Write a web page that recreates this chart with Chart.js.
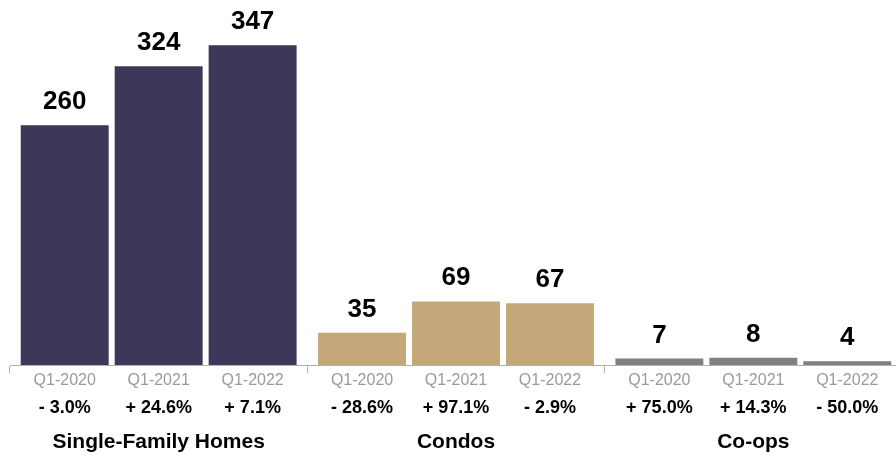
<!DOCTYPE html>
<html>
<head>
<meta charset="utf-8">
<script src="https://cdn.jsdelivr.net/npm/chart.js@4/dist/chart.umd.min.js"></script>
<style>
  html, body { margin: 0; padding: 0; background: #fff; overflow: hidden; }
  #wrap { width: 902px; height: 456px; }
</style>
</head>
<body>
<div id="wrap"><canvas id="chart" width="902" height="456"></canvas></div>
<script>
// 数据
const groups = ['Single-Family Homes', 'Condos', 'Co-ops'];
const quarters = ['Q1-2020', 'Q1-2021', 'Q1-2022'];
const q2020 = [260, 35, 7];
const q2021 = [324, 69, 8];
const q2022 = [347, 67, 4];
const chg2020 = ['- 3.0%', '- 28.6%', '+ 75.0%'];
const chg2021 = ['+ 24.6%', '+ 97.1%', '+ 14.3%'];
const chg2022 = ['+ 7.1%', '- 2.9%', '- 50.0%'];
const groupColors = ['#3b3859', '#c4a87a', '#818181'];

const values = [q2020, q2021, q2022];
const changes = [chg2020, chg2021, chg2022];
const FONT = '"Liberation Sans", Arial, Helvetica, sans-serif';

// 柱子上的数值、季度和变化百分比
const labelPlugin = {
    id: 'barLabels',
    afterDatasetsDraw(chart) {
        const c = chart.ctx;
        const bottom = chart.chartArea.bottom;
        c.save();
        c.textAlign = 'center';
        chart.data.datasets.forEach((ds, i) => {
            chart.getDatasetMeta(i).data.forEach((bar, j) => {
                c.fillStyle = '#000';
                c.font = 'bold 26px ' + FONT;
                c.textBaseline = 'alphabetic';
                c.fillText(String(ds.data[j]), bar.x, bar.y - 16);

                c.textBaseline = 'middle';
                c.fillStyle = '#9a9a9a';
                c.font = '16px ' + FONT;
                c.fillText(quarters[i], bar.x, bottom + 16);

                c.fillStyle = '#000';
                c.font = 'bold 18px ' + FONT;
                c.fillText(changes[i][j], bar.x, bottom + 43);
            });
        });
        c.restore();
    }
};

new Chart(document.getElementById('chart'), {
    type: 'bar',
    data: {
        labels: groups,
        datasets: quarters.map((q, i) => ({
            label: q,
            data: values[i],
            backgroundColor: groupColors,
            borderWidth: 0,
            categoryPercentage: 0.948,
            barPercentage: 0.936
        }))
    },
    options: {
        responsive: false,
        animation: false,
        layout: { padding: { left: 10, right: 0, top: 0, bottom: 0 } },
        plugins: { legend: { display: false }, tooltip: { enabled: false } },
        scales: {
            y: { display: false, min: 0, max: 396 },
            x: {
                offset: true,
                border: { display: true, color: '#b0b0b0', width: 1 },
                grid: { offset: true, drawOnChartArea: false, drawTicks: true, tickLength: 8, color: '#b0b0b0' },
                ticks: { color: '#000', font: { family: FONT, size: 21, weight: 'bold' }, padding: 57, maxRotation: 0 },
                afterFit(scale) {
                    scale.height = 91;
                    scale.paddingLeft = 0;
                    scale.paddingRight = 0;
                }
            }
        }
    },
    plugins: [labelPlugin]
});
</script>
</body>
</html>
